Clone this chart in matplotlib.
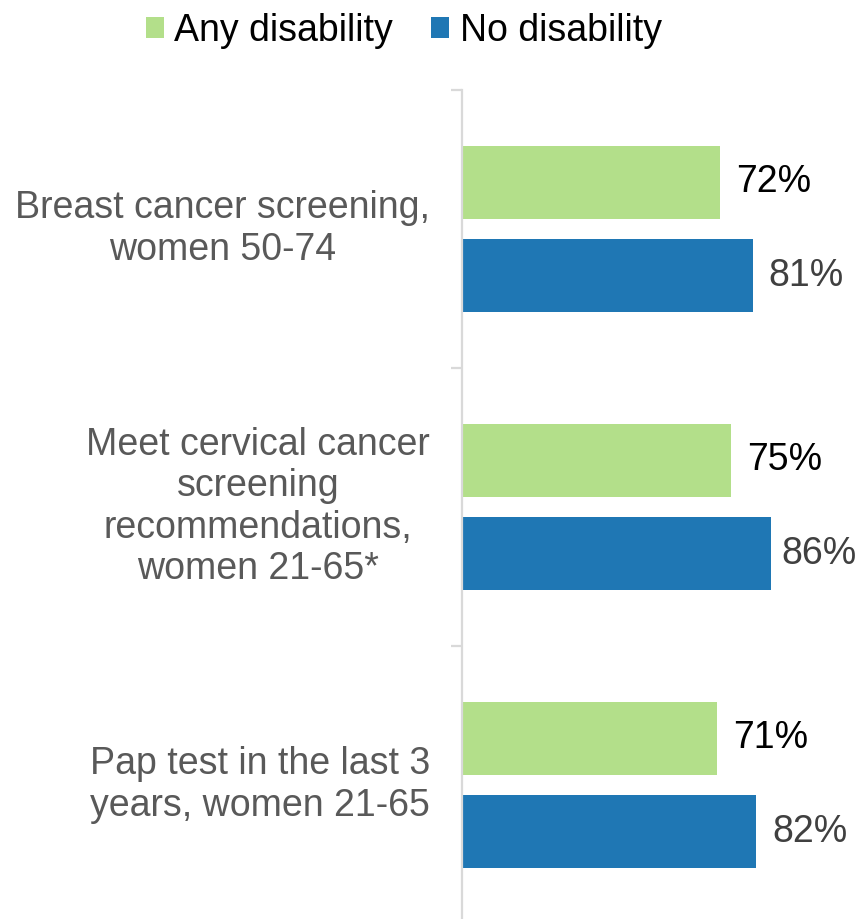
import matplotlib
matplotlib.use("Agg")
import matplotlib.pyplot as plt
from matplotlib.patches import Patch
import numpy as np

plt.rcParams['font.family'] = ['Liberation Sans', 'DejaVu Sans']

categories = [
    "Breast cancer screening,\nwomen 50-74",
    "Meet cervical cancer\nscreening\nrecommendations,\nwomen 21-65*",
    "Pap test in the last 3\nyears, women 21-65",
]
series_names = ["Any disability", "No disability"]
any_disability = [72, 75, 71]
no_disability = [81, 86, 82]

green = "#B3DF8A"
blue = "#1F77B4"
axis_gray = "#D9D9D9"

W, H = 859, 919
fig = plt.figure(figsize=(W / 100, H / 100), dpi=100)

# axes spans three category bands of equal height; the last band runs past the bottom edge
band_px = 278
top_px = 90
left_px = 462
ax_h = 3 * band_px
ax = fig.add_axes([left_px / W, (H - top_px - ax_h) / H, (W - left_px) / W, ax_h / H])

px_per_pct = 3.59
ax.set_xlim(0, (W - left_px) / px_per_pct)
ax.set_ylim(3, 0)

y = np.arange(len(categories)) + 0.5
bar_h = 0.263
off = 0.168
ax.barh(y - off, any_disability, height=bar_h, color=green, label=series_names[0])
ax.barh(y + off, no_disability, height=bar_h, color=blue, label=series_names[1])

fs = 27
for yi, v in zip(y - off, any_disability):
    ax.annotate(f"{v}%", (v, yi), xytext=(11.5, 0), textcoords="offset points",
                va="center", ha="left", fontsize=fs, color="#000000", annotation_clip=False)
for yi, v in zip(y + off, no_disability):
    # keep the label inside the figure for the longest bar
    room_pt = (W - (left_px + v * px_per_pct) - 78) * 0.72
    dx = min(11.5, max(room_pt, 4))
    ax.annotate(f"{v}%", (v, yi), xytext=(dx, 0), textcoords="offset points",
                va="center", ha="left", fontsize=fs, color="#404040", annotation_clip=False)

for s in ["top", "right", "bottom"]:
    ax.spines[s].set_visible(False)
ax.spines["left"].set_color(axis_gray)
ax.spines["left"].set_linewidth(1.6)

ax.set_xticks([])
ax.set_yticks([0, 1, 2, 3])
ax.set_yticklabels([])
ax.tick_params(axis="y", which="major", length=8, width=1.6, color=axis_gray)
ax.set_yticks(y, minor=True)
ax.set_yticklabels(categories, minor=True, fontsize=fs, color="#595959",
                   ha="right", va="center", multialignment="center", linespacing=1.18)
ax.tick_params(axis="y", which="minor", length=0, pad=23)

handles = [Patch(facecolor=green, edgecolor="none"), Patch(facecolor=blue, edgecolor="none")]
fig.legend(handles, series_names, loc="center", bbox_to_anchor=(403.5 / W, 1 - 31 / H),
           ncol=2, frameon=False, fontsize=fs, handlelength=0.5, handleheight=0.5,
           handletextpad=0.27, columnspacing=1.0, borderaxespad=0, borderpad=0)

fig.savefig("out.png", dpi=100)
